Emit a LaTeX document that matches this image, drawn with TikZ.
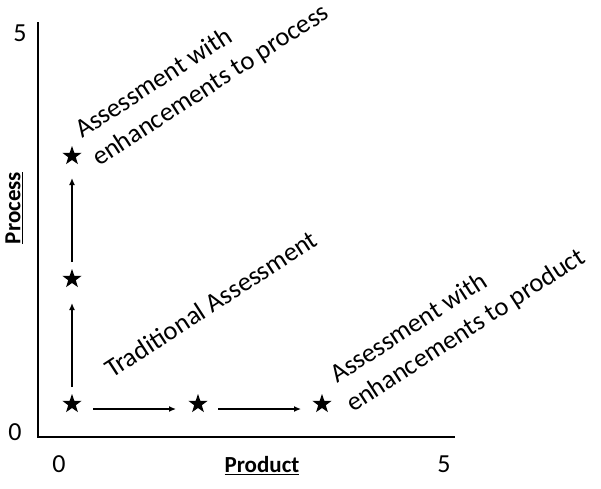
\documentclass[tikz,border=0pt]{standalone}
\usepackage{fontspec}
\setmainfont{Carlito}
\usetikzlibrary{arrows.meta,shapes.geometric}
\begin{document}
\begin{tikzpicture}[x=1pt,y=-1pt,
  staritem/.style={star,star points=5,star point ratio=2.5,fill=black,draw=none,minimum size=20pt,inner sep=0pt},
  arr/.style={line width=1.3pt,-{Latex[length=7pt,width=6pt]}},
  axisline/.style={line width=1.8pt},
  ticklab/.style={font=\fontsize{26}{28}\selectfont,inner sep=0pt},
  axlab/.style={font=\bfseries\fontsize{23}{25}\selectfont,inner sep=0pt},
  note/.style={font=\fontsize{26.5}{30}\selectfont,rotate=33,inner sep=0pt,anchor=base west}]
\useasboundingbox (0,0) rectangle (601,488);
% axes
\coordinate (origin) at (38,437);
\coordinate (ytop) at (38,22);
\coordinate (xend) at (455,437);
\draw[axisline] (ytop) -- (origin) -- (xend);
\node[ticklab] (y5) at (20,33) {5};
\node[ticklab] (y0) at (15,432) {0};
\node[ticklab] (x0) at (59,464) {0};
\node[ticklab] (x5) at (444,464) {5};
\node[axlab] (xl) at (262,466) {\underline{Product}};
\node[axlab,rotate=90] (yl) at (14,208) {\underline{Process}};
% stars
\node[staritem] (s1) at (72,404) {};
\node[staritem] (s2) at (198,404) {};
\node[staritem] (s3) at (322,404) {};
\node[staritem] (s4) at (72,279) {};
\node[staritem] (s5) at (72,156) {};
% arrows
\draw[arr,shorten <=17pt,shorten >=24pt] (s1.center) -- (s4.center);
\draw[arr,shorten <=17pt,shorten >=22pt] (s4.center) -- (s5.center);
\draw[arr,shorten <=21pt,shorten >=22pt] ([yshift=-5pt]s1.center) -- ([yshift=-5pt]s2.center);
\draw[arr,shorten <=20pt,shorten >=21pt] ([yshift=-5pt]s2.center) -- ([yshift=-5pt]s3.center);
% labels
\node[note] (trad) at (112,379) {Traditional Assessment};
\node[note] (proc1) at (82,139) {Assessment with};
\node[note] (proc2) at (99,167) {enhancements to process};
\node[note] (prod1) at (337,384) {Assessment with};
\node[note] (prod2) at (353,413) {enhancements to product};
\end{tikzpicture}
\end{document}
